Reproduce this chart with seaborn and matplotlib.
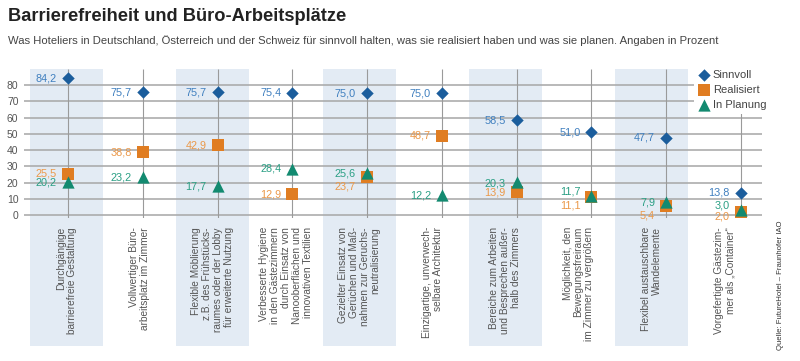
import matplotlib
matplotlib.use("Agg")
import matplotlib.pyplot as plt
import seaborn as sns
import numpy as np
from matplotlib.patches import Rectangle

# Daten
kategorien = [
    "Durchgängige\nbarrierefreie Gestaltung",
    "Vollwertiger Büro-\narbeitsplatz im Zimmer",
    "Flexible Möblierung\nz.B. des Frühstücks-\nraumes oder der Lobby\nfür erweiterte Nutzung",
    "Verbesserte Hygiene\nin den Gästezimmern\ndurch Einsatz von\nNanooberflächen und\ninnovativen Textilien",
    "Gezielter Einsatz von\nGerüchen und Maß-\nnahmen zur Geruchs-\nneutralisierung",
    "Einzigartige, unverwech-\nselbare Architektur",
    "Bereiche zum Arbeiten\nund Besprechen außer-\nhalb des Zimmers",
    "Möglichkeit, den\nBewegungsfreiraum\nim Zimmer zu vergrößern",
    "Flexibel austauschbare\nWandelemente",
    "Vorgefertigte Gästezim-\nmer als „Container“",
]
sinnvoll = [84.2, 75.7, 75.7, 75.4, 75.0, 75.0, 58.5, 51.0, 47.7, 13.8]
realisiert = [25.5, 38.8, 42.9, 12.9, 23.7, 48.7, 13.9, 11.1, 5.4, 2.0]
in_planung = [20.2, 23.2, 17.7, 28.4, 25.6, 12.2, 20.3, 11.7, 7.9, 3.0]
y_ticks = [0, 10, 20, 30, 40, 50, 60, 70, 80]

TITEL = "Barrierefreiheit und Büro-Arbeitsplätze"
UNTERTITEL = ("Was Hoteliers in Deutschland, Österreich und der Schweiz für sinnvoll halten, "
              "was sie realisiert haben und was sie planen. Angaben in Prozent")
QUELLE = "Quelle: FutureHotel – Fraunhofer IAO"

# Stil
sns.set_theme(style="white")
plt.rcParams['font.family'] = ['Liberation Sans', 'DejaVu Sans']

BLAU, BLAU_TXT = "#1b5d9c", "#3f7fbf"
ORANGE, ORANGE_TXT = "#e07d22", "#eb9848"
GRUEN, GRUEN_TXT = "#138a70", "#2a9f84"
BAND = "#e3ebf4"
GRID = "#a6a6a6"

n = len(kategorien)
pos = np.arange(n)                 # Position der Markerlinien
slot = pos * 0.978 - 0.02          # Position der Bänder / Beschriftungen
band_breite = 0.976

fig = plt.figure(figsize=(8, 3.61), dpi=100)
ax = fig.add_axes([0.03, 0.3954, 0.9225, 0.4135])
ax.set_xlim(-0.588, 9.28)
ax.set_ylim(-2, 90)

# Hintergrundbänder (jede zweite Kategorie), reichen bis in die Beschriftung
for i in range(0, n, 2):
    ax.add_patch(Rectangle((slot[i] - band_breite / 2, -81), band_breite, 171,
                           facecolor=BAND, edgecolor="none", zorder=0, clip_on=False))

# Gitter
for t in y_ticks:
    ax.axhline(t, color=GRID, lw=1.1, zorder=1)
ax.vlines(pos, -2, 90, color="#9a9a9a", lw=0.8, zorder=1)

# Marker
sns.scatterplot(x=pos, y=realisiert, marker="s", color=ORANGE, s=63, linewidth=0,
                label="Realisiert", ax=ax, zorder=3)
sns.scatterplot(x=pos, y=in_planung, marker="^", color=GRUEN, s=78, linewidth=0,
                label="In Planung", ax=ax, zorder=4)
sns.scatterplot(x=pos, y=sinnvoll, marker="D", color=BLAU, s=40, linewidth=0,
                label="Sinnvoll", ax=ax, zorder=5)

# Wertbeschriftungen (vertikale Verschiebung in Punkten)
versatz = {
    ("r", 4): -7, ("r", 7): -6, ("r", 8): -6.5, ("r", 9): -3.5,
    ("p", 6): -1, ("p", 7): 3, ("p", 9): 3,
}
def fmt(v):
    return f"{v:.1f}".replace(".", ",")

for key, werte, farbe in [("s", sinnvoll, BLAU_TXT), ("r", realisiert, ORANGE_TXT),
                          ("p", in_planung, GRUEN_TXT)]:
    for i, v in enumerate(werte):
        ax.annotate(fmt(v), (pos[i], v), xytext=(-8, versatz.get((key, i), 0)),
                    textcoords="offset points", ha="right", va="center",
                    fontsize=7.8, color=farbe, zorder=6)

# Kategorienbeschriftungen
for i, k in enumerate(kategorien):
    ax.text(slot[i], -7.4, k, rotation=90, rotation_mode="anchor", ha="right",
            va="center", multialignment="right", fontsize=7.3, color="#555555",
            linespacing=1.12, clip_on=False)

# Achsen
ax.set_yticks(y_ticks)
ax.set_xticks([])
ax.tick_params(axis="y", length=0, pad=4, labelsize=7.5, labelcolor="#555555")
for s in ax.spines.values():
    s.set_visible(False)

# Legende
h, l = ax.get_legend_handles_labels()
order = [l.index("Sinnvoll"), l.index("Realisiert"), l.index("In Planung")]
leg = ax.legend([h[i] for i in order], [l[i] for i in order],
                loc="upper left", bbox_to_anchor=(694 / 800, 1 - 67 / 361),
                bbox_transform=fig.transFigure, frameon=True, facecolor="white",
                edgecolor="none", framealpha=1, fancybox=False, fontsize=8,
                handletextpad=0.2, labelspacing=0.45, borderpad=0.3,
                handlelength=1.2, borderaxespad=0)
for t in leg.get_texts():
    t.set_color("#444444")
leg.set_zorder(10)

# Texte
titel = fig.text(0.01, 1 - 8 / 361, TITEL, fontsize=13.5, fontweight="bold",
                 color="#222222", va="top", ha="left")
unter = fig.text(0.01, 1 - 41 / 361, UNTERTITEL, fontsize=9.3, color="#444444",
                 va="center", ha="left")
fig.text(780 / 800, 1 - 220 / 361, QUELLE, rotation=90, rotation_mode="anchor",
         ha="right", va="center", fontsize=5.6, color="#333333")

# Schriftgröße an die Breite im Original anpassen
renderer = fig.canvas.get_renderer()
for txt, breite in [(titel, 338), (unter, 709)]:
    w = txt.get_window_extent(renderer).width
    txt.set_fontsize(txt.get_fontsize() * breite / w)

fig.savefig("out.png", dpi=100)
